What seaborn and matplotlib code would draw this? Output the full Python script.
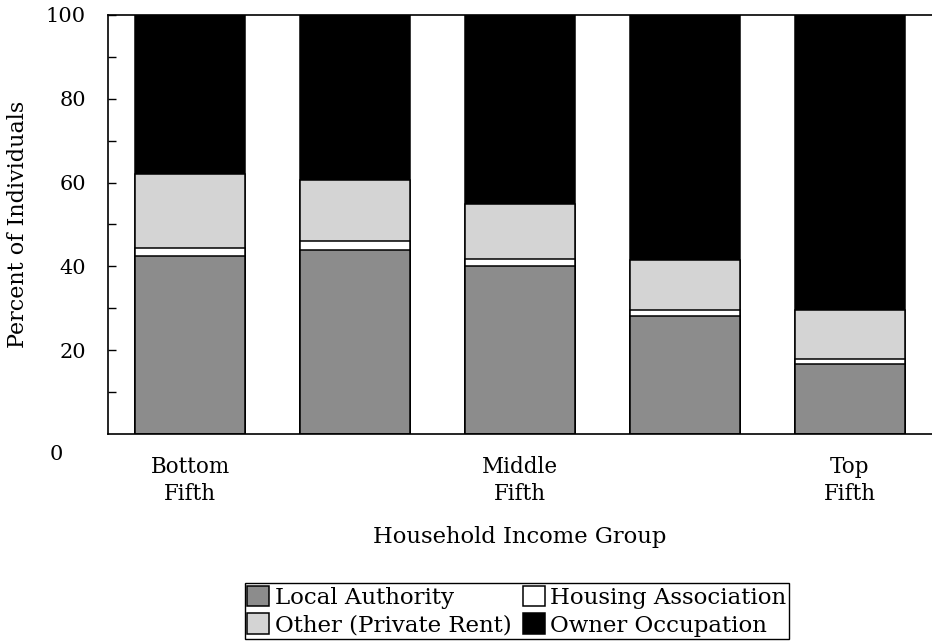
import numpy as np
import pandas as pd
import matplotlib
matplotlib.use("Agg")
import matplotlib.pyplot as plt
import seaborn as sns

sns.set_style("ticks")
plt.rcParams['font.family'] = ['DejaVu Serif']
plt.rcParams['text.color'] = 'black'
plt.rcParams['axes.labelcolor'] = 'black'
plt.rcParams['xtick.color'] = 'black'
plt.rcParams['ytick.color'] = 'black'

# income quintiles
groups = ['Q1', 'Q2', 'Q3', 'Q4', 'Q5']
tick_labels = ['Bottom\nFifth', '', 'Middle\nFifth', '', 'Top\nFifth']

# tenure shares, percent of individuals
local_authority = [42.6, 43.8, 40.0, 28.2, 16.8]
housing_assoc = [1.8, 2.2, 1.7, 1.3, 1.1]
private_rent = [17.6, 14.7, 13.3, 12.1, 11.6]
owner_occ = [38.0, 39.3, 45.0, 58.4, 70.5]

tenures = ['Local Authority', 'Housing Association', 'Other (Private Rent)', 'Owner Occupation']
colors = ['#8c8c8c', '#ffffff', '#d4d4d4', '#000000']

stack = np.cumsum([local_authority, housing_assoc, private_rent, owner_occ], axis=0)

fig = plt.figure(figsize=(9.32, 6.43), dpi=100)
ax = fig.add_axes([108 / 932, 1 - 434 / 643, 1 - 108 / 932, (434 - 15) / 643])

# draw tallest layer first, smaller cumulative layers on top
for i in range(len(tenures) - 1, -1, -1):
    df = pd.DataFrame({'group': groups, 'value': stack[i]})
    sns.barplot(data=df, x='group', y='value', order=groups, color=colors[i],
                saturation=1, width=0.667, edgecolor='black', linewidth=1.1,
                errorbar=None, ax=ax, label=tenures[i])

if ax.get_legend() is not None:
    ax.get_legend().remove()

ax.set_xlim(-0.5, 4.5)
ax.set_ylim(0, 100)
ax.set_yticks([20, 40, 60, 80, 100])
ax.set_yticks([10, 30, 50, 70, 90], minor=True)
ax.tick_params(axis='y', which='both', direction='in', length=6, width=1,
               labelsize=15, pad=16, color='black', labelcolor='black')
ax.tick_params(axis='x', length=0, labelsize=15.5, pad=16, labelcolor='black')
ax.set_xticks(range(len(groups)))
ax.set_xticklabels(tick_labels, linespacing=1.3)
ax.text(-0.055, -5, '0', transform=ax.get_yaxis_transform(), ha='right', va='center',
        fontsize=15, color='black')

for side in ['left', 'top', 'bottom']:
    ax.spines[side].set_color('black')
    ax.spines[side].set_linewidth(1.2)
ax.spines['right'].set_visible(False)

ax.set_xlabel('Household Income Group', fontsize=16.3, labelpad=15)
ax.set_ylabel('Percent of Individuals', fontsize=16, labelpad=12)

handles, labels = ax.get_legend_handles_labels()
lookup = dict(zip(labels, handles))
order = ['Local Authority', 'Other (Private Rent)', 'Housing Association', 'Owner Occupation']
leg = fig.legend([lookup[l] for l in order], order, loc='upper center',
                 bbox_to_anchor=(517 / 932, 1 - 583 / 643), ncol=2, fontsize=16.5,
                 frameon=True, fancybox=False, edgecolor='black', framealpha=1,
                 handlelength=0.95, handleheight=1.0, handletextpad=0.25,
                 columnspacing=0.5, labelspacing=0.2, borderpad=0.12,
                 borderaxespad=0)
leg.get_frame().set_linewidth(1.0)

fig.savefig('out.png', dpi=100)
